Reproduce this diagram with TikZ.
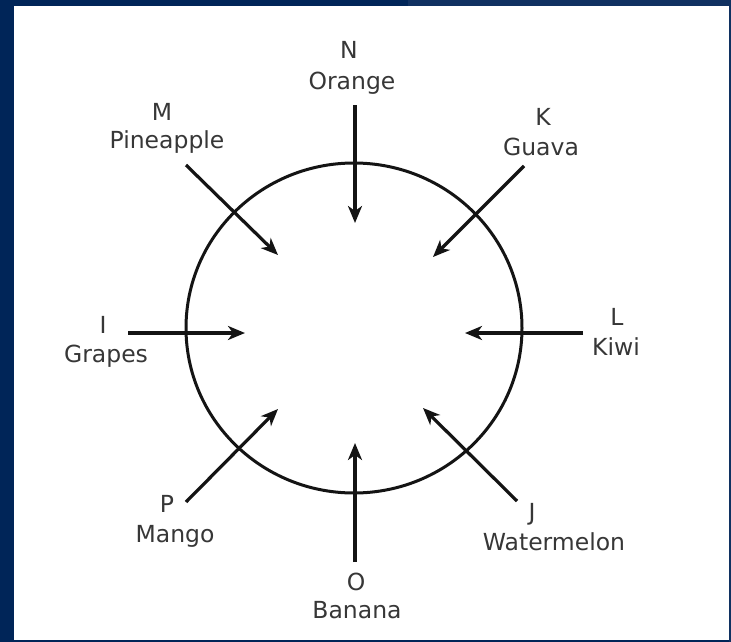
\documentclass[tikz,border=0pt]{standalone}
\usepackage{fontspec}
\setmainfont{DejaVu Sans}
\usepackage{xcolor}
\usepackage{tikz}
\usetikzlibrary{arrows.meta,positioning}
\definecolor{frnavy}{RGB}{0,37,88}
\definecolor{frsteel}{RGB}{16,49,97}
\definecolor{frink}{RGB}{20,20,20}
\definecolor{frtext}{RGB}{55,55,55}

\begin{document}
\begin{tikzpicture}[
  x=1pt, y=-1pt,
  >={Stealth[length=17pt,width=14pt,inset=5pt]},
  font=\fontsize{23.5}{30}\selectfont,
  tag/.style={text=frtext, inner sep=0pt, anchor=base},
  fruit/.style={text=frtext, inner sep=0pt, anchor=base},
  feed/.style={->, line width=3.2pt, draw=frink},
  rim/.style={line width=3pt, draw=frink}
]
% frame
\fill[frnavy] (0,0) rectangle (731,642);
\fill[frsteel] (408,0) rectangle (731,6);
\fill[frsteel] (729,0) rectangle (731,642);
\fill[white] (14,6) rectangle (729,640);
\useasboundingbox (0,0) rectangle (731,642);

\draw[rim] (354,328) ellipse [x radius=168pt, y radius=165pt];

% labels
\node[tag] (n) at (349,59) {N};
\node[fruit] (orange) at (352,89) {Orange};
\node[tag] (m) at (162,120) {M};
\node[fruit] (pineapple) at (167,148) {Pineapple};
\node[tag] (k) at (543,125) {K};
\node[fruit] (guava) at (541,155) {Guava};
\node[tag] (i) at (103,333) {I};
\node[fruit] (grapes) at (106,362) {Grapes};
\node[tag] (l) at (617,325) {L};
\node[fruit] (kiwi) at (616,355) {Kiwi};
\node[tag] (p) at (167,512) {P};
\node[fruit] (mango) at (175,542) {Mango};
\node[tag] (j) at (532,520) {J};
\node[fruit] (watermelon) at (554,550) {Watermelon};
\node[tag] (o) at (356,590) {O};
\node[fruit] (banana) at (357,618) {Banana};

% arrow ends
\coordinate (n-out) at (355,105);  \coordinate (n-in) at (355,223);
\coordinate (k-out) at (524,166);  \coordinate (k-in) at (433,257);
\coordinate (l-out) at (583,333);  \coordinate (l-in) at (465,333);
\coordinate (j-out) at (517,501);  \coordinate (j-in) at (423,408);
\coordinate (o-out) at (355,562);  \coordinate (o-in) at (355,443);
\coordinate (p-out) at (186,502);  \coordinate (p-in) at (278,409);
\coordinate (i-out) at (128,333);  \coordinate (i-in) at (245,333);
\coordinate (m-out) at (186,165);  \coordinate (m-in) at (278,255);

\foreach \s in {n,k,l,j,o,p,i,m}
  \draw[feed] (\s-out) -- (\s-in);
\end{tikzpicture}
\end{document}
